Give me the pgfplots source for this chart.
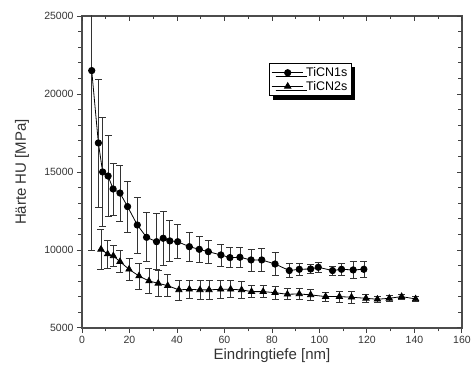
\documentclass[border=0pt]{standalone}
\usepackage{fontspec}
\setmainfont{Liberation Sans}
\usepackage{pgfplots}
\pgfplotsset{compat=1.18}
\usetikzlibrary{shadows}
\begin{document}
\begin{tikzpicture}
\pgfplotsset{
  common/.style={
    scale only axis, width=380bp, height=312bp,
    xmin=0, xmax=160, ymin=5000, ymax=25000,
    xtick={0,20,...,160}, ytick={5000,10000,...,25000},
    minor x tick num=1, minor y tick num=4,
    major tick length=5bp, minor tick length=3.5bp,
    every tick/.style={black!75, line width=0.9bp},
    scaled y ticks=false, scaled x ticks=false,
  }
}
\begin{axis}[common, name=ax,
  axis line style={black!70, line width=1.3bp},
  tick align=outside, xtick pos=bottom, ytick pos=left,
  /pgf/number format/assume math mode=true,
  /pgf/number format/1000 sep={},
  tick label style={font=\fontsize{10.5bp}{12bp}\selectfont, text=black!80},
  xlabel={Eindringtiefe [nm]}, ylabel={Härte HU [MPa]},
  label style={font=\fontsize{15bp}{18bp}\selectfont, text=black!80},
  xlabel style={at={(axis description cs:0.5,0)}, anchor=center, yshift=-28bp},
  ylabel style={at={(axis description cs:-0.158,0.5)}, anchor=center},
  legend style={at={(axis description cs:0.492,0.849)}, anchor=north west,
    draw=black, line width=0.8bp, fill=white,
    drop shadow={shadow xshift=4bp, shadow yshift=-4bp, fill=black, opacity=1},
    font=\fontsize{12.5bp}{14bp}\selectfont, inner sep=2bp, row sep=-1bp,
    /tikz/every odd column/.append style={column sep=1bp}},
  legend cell align=left,
  legend image code/.code={\draw[mark repeat=2,mark phase=2] plot coordinates {(3bp,0bp)(16bp,0bp)(29bp,0bp)}; \path (0bp,0bp) -- (31bp,0bp);},
]
\addplot[black, line width=0.8bp, mark=*, mark size=3.2bp,
  error bars/.cd, y dir=both, y explicit,
  error bar style={line width=0.7bp, black!80},
  error mark options={rotate=90, mark size=3.5bp, line width=0.7bp, black!80}]
  table[x=x, y=y, y error=e] {
x y e
4.1 21500 11500
6.9 16860 4100
8.7 15000 3500
11.0 14740 2600
13.1 13910 1660
16.0 13650 1800
19.2 12780 1650
23.3 11600 1800
27.2 10810 1570
31.4 10530 1800
34.2 10750 1750
37.0 10580 1300
40.3 10530 1100
45.2 10210 950
49.4 10040 850
53.2 9890 750
58.5 9680 700
62.3 9510 650
66.5 9530 650
71.2 9360 700
75.7 9360 760
81.3 9100 720
87.3 8680 430
91.5 8760 400
96.3 8780 280
99.5 8890 300
105.5 8680 300
109.3 8760 400
114.2 8720 530
118.7 8760 530
};
\addlegendentry{TiCN1s}
\addplot[black, line width=0.8bp, mark=triangle*, mark size=3.6bp,
  error bars/.cd, y dir=both, y explicit,
  error bar style={line width=0.7bp, black!80},
  error mark options={rotate=90, mark size=3.5bp, line width=0.7bp, black!80}]
  table[x=x, y=y, y error=e] {
x y e
8.0 10040 1300
10.8 9740 900
13.2 9620 700
16.0 9250 700
19.8 8760 700
24.0 8330 840
28.2 8010 800
32.1 7860 850
36.1 7710 700
40.8 7440 640
45.2 7480 600
49.7 7440 600
53.5 7440 600
58.4 7480 600
62.6 7480 550
67.2 7440 550
71.4 7330 400
76.3 7330 400
81.3 7260 400
86.5 7160 350
91.5 7180 350
96.3 7120 350
102.6 7010 300
108.4 7010 350
113.5 6970 400
119.6 6900 250
124.4 6840 200
129.4 6900 200
134.6 7010 150
140.5 6860 150
};
\addlegendentry{TiCN2s}
\end{axis}
\begin{axis}[common,
  axis line style={draw=none},
  tick align=inside, xtick pos=top, ytick pos=right,
  xticklabels={}, yticklabels={},
]
\addplot[draw=none] coordinates {(0,5000)};
\end{axis}
\path ([shift={(-82bp,-46bp)}]ax.south west) rectangle ([shift={(12bp,16bp)}]ax.north east);
\end{tikzpicture}
\end{document}
